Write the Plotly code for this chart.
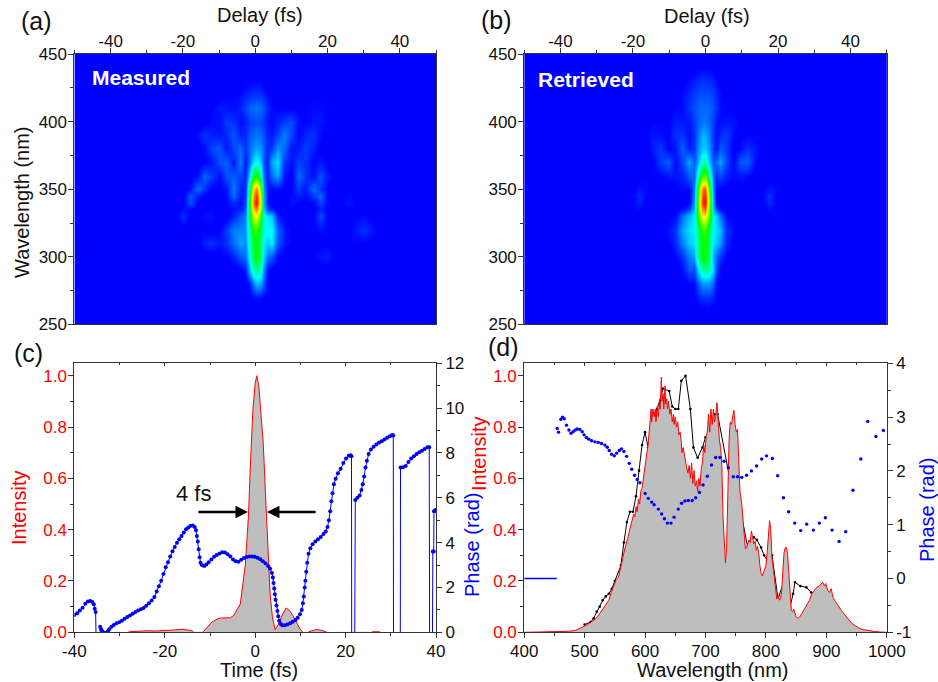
import plotly.graph_objects as go

W, H = 938, 682
def fx(x): return x / W
def fy(y): return 1 - y / H

# ---------- FROG maps (values in percent of peak) ----------
delay_a = [-50,-36,-30,-26,-22,-20,-18,-16,-14,-12,-10,-8,-6,-4,-2.6,-1.6,-0.6,0.4,1.4,2.4,3.4,4.4,6,8,10,12,14,16,18,20,22,26,30,36,50]
delay_b = [-50,-36,-30.4,-26.4,-22.4,-20.4,-18.4,-16.4,-14.4,-12.4,-10.4,-8.4,-6.4,-4.4,-3,-2,-1,0,1,2,3,4,5.6,7.6,9.6,11.6,13.6,15.6,17.6,19.6,21.6,25.6,29.6,36,50]
map_wavelength = [250,260,270,280,290,300,310,320,330,335,340,345,350,360,370,380,390,400,410,420,430,440,450]

measured_pct = [
 [0]*31,
 [0]*31,
 [0,0,0,0,0,0,0,0,0,0,0,0,0,2,4,5,5,4,2,0,0,0,0,0,0,0,0,0,0,0,0],
 [0,0,0,0,0,0,0,0,0,0,0,0,1,5,16,22,20,12,4,2,0,0,0,0,0,0,0,0,0,0,0],
 [0,0,0,0,0,0,0,0,0,0,1,3,6,22,36,38,34,18,5,2,0,0,0,0,0,0,1,1,0,0,0],
 [0,0,0,0,0,1,1,1,2,3,6,12,14,30,46,50,42,26,14,12,4,1,1,1,1,3,5,6,2,1,1],
 [0,0,0,1,1,2,6,8,5,8,14,20,18,34,48,50,42,28,24,28,12,5,3,2,2,2,2,3,2,3,3],
 [0,0,1,2,2,3,3,2,3,9,16,17,18,38,52,54,44,32,30,30,14,5,3,3,3,3,4,3,3,3,8],
 [0,3,1,8,2,2,4,5,2,2,6,12,16,46,72,76,56,30,26,24,6,2,2,3,2,3,11,3,2,2,4],
 [1,2,1,4,4,2,2,3,1,2,5,6,12,48,82,90,68,24,10,6,2,1,3,2,3,2,6,3,2,3,1],
 [0,1,1,2,11,3,1,1,1,3,8,4,10,50,90,100,74,22,6,2,1,1,5,3,3,3,10,4,2,5,0],
 [1,1,1,2,12,6,3,1,2,4,14,5,8,46,86,96,72,22,5,2,3,2,4,6,4,8,14,3,2,4,0],
 [0,1,3,1,5,14,8,3,3,5,16,6,8,42,80,88,64,20,5,4,4,3,3,9,5,15,8,3,2,2,0],
 [0,1,2,0,2,4,13,9,4,11,12,10,6,26,48,52,38,14,6,14,20,5,2,14,8,4,11,5,2,1,0],
 [1,1,0,0,0,2,3,5,11,13,5,16,5,14,26,30,24,12,6,20,26,8,5,9,8,3,5,3,1,0,0],
 [0,0,0,0,0,2,4,10,12,5,10,14,8,14,18,20,18,13,7,9,18,14,4,6,9,6,2,2,1,0,0],
 [0,0,0,0,0,4,8,6,5,7,12,6,7,12,14,15,14,11,6,5,10,16,10,3,7,8,4,2,2,2,0],
 [0,0,0,0,0,0,2,4,4,9,8,4,6,9,10,11,10,8,5,4,6,9,11,4,3,5,5,3,2,2,0],
 [0,0,0,0,0,0,0,3,5,5,4,6,10,13,14,15,14,11,7,4,3,3,3,3,3,4,4,3,1,0,0],
 [0,0,0,0,0,0,0,0,2,3,3,4,6,7,8,8,8,6,4,3,2,2,2,2,2,3,3,2,0,0,0],
 [0,0,0,0,0,0,0,0,0,0,0,1,2,3,3,3,3,2,1,0,0,0,0,0,0,0,0,0,0,0,0],
 [0]*31,
 [0]*31,
]
retrieved_pct = [
 [0]*31,
 [0,0,0,0,0,0,0,0,0,0,0,0,0,0,1,2,2,1,0,0,0,0,0,0,0,0,0,0,0,0,0],
 [0,0,0,0,0,0,0,0,0,0,0,1,3,6,8,8,8,6,3,1,0,0,0,0,0,0,0,0,0,0,0],
 [0,0,0,0,0,0,0,0,0,0,1,3,4,12,18,18,18,12,4,3,1,0,0,0,0,0,0,0,0,0,0],
 [0,0,0,0,0,0,0,0,0,1,4,12,10,26,36,38,36,24,10,4,1,0,0,0,0,0,0,0,0,0,0],
 [0,0,0,0,0,0,0,1,1,3,8,16,20,40,50,52,40,20,14,8,3,1,1,0,0,0,0,0,0,0,0],
 [0,0,0,0,0,1,1,1,3,7,16,24,26,40,50,52,40,26,24,18,7,3,2,1,1,0,0,0,0,0,0],
 [0,0,0,1,1,1,1,2,4,8,20,26,28,42,54,56,42,28,26,22,8,4,2,1,1,1,1,1,0,0,0],
 [0,0,0,4,2,1,0,1,2,4,14,22,28,56,76,78,56,28,24,14,4,2,1,0,1,1,3,4,1,0,0],
 [0,0,0,3,4,1,1,0,1,2,4,10,22,60,88,92,60,22,10,4,2,1,0,1,1,2,4,3,1,0,0],
 [0,0,0,3,6,2,1,0,0,1,2,3,20,62,96,100,64,20,3,2,1,0,0,1,1,2,7,3,1,0,0],
 [0,0,0,2,7,3,1,0,0,1,2,2,18,60,92,97,62,18,2,2,1,0,0,1,2,3,8,3,1,0,0],
 [0,0,0,1,5,4,2,1,1,2,4,4,16,56,88,92,56,16,4,3,2,1,1,2,3,3,5,4,1,0,0],
 [0,0,0,0,2,3,3,3,5,5,6,12,14,36,56,60,36,14,8,10,6,4,5,4,2,2,2,1,0,0,0],
 [0,0,0,0,1,2,3,9,13,4,10,20,12,22,34,36,22,12,14,20,10,3,12,13,4,1,0,0,0,0,0],
 [0,0,0,0,0,2,6,9,3,5,13,6,9,18,24,24,18,9,5,12,9,2,4,8,5,2,0,0,0,0,0],
 [0,0,0,0,1,3,5,4,3,8,8,4,8,15,21,21,15,8,4,7,9,4,2,3,3,2,0,0,0,0,0],
 [0,0,0,0,0,2,3,3,3,6,5,5,9,13,15,15,13,9,5,4,5,5,3,2,2,1,0,0,0,0,0],
 [0,0,0,0,0,0,1,2,2,3,4,8,11,13,14,14,13,11,8,4,3,2,2,1,0,0,0,0,0,0,0],
 [0,0,0,0,0,0,0,0,1,2,4,7,9,11,11,11,11,9,7,4,2,1,1,0,0,0,0,0,0,0,0],
 [0,0,0,0,0,0,0,0,0,0,2,4,6,7,8,8,7,6,4,2,1,0,0,0,0,0,0,0,0,0,0],
 [0,0,0,0,0,0,0,0,0,0,0,1,2,3,3,3,3,2,1,0,0,0,0,0,0,0,0,0,0,0,0],
 [0]*31,
]

# ---------- panel (c): temporal profile ----------
time_fs = [-28,-26,-24,-22,-20,-18,-16,-14,-13.7,None,-11.5,-10.5,-9.6,-8,-5.5,-4.8,-3.3,-2.2,-1.5,-1,-0.5,0,0.35,0.8,1.3,1.8,2.5,3.3,3.8,4.4,5.1,5.8,6.8,7.6,8.5,9.2,10,10.5,None,11.8,12.8,13.6,14.8,15.8,None,25.8,27.6]
intensity_t = [0.002,0.005,0.006,0.005,0.006,0.009,0.012,0.006,0.002,None,0.002,0.02,0.04,0.055,0.057,0.065,0.11,0.26,0.45,0.68,0.87,0.97,1.0,0.96,0.85,0.73,0.45,0.15,0.06,0.01,0.03,0.06,0.095,0.085,0.06,0.035,0.01,0.002,None,0.002,0.008,0.011,0.007,0.001,None,0.002,0.002]

phase_time = [-40,-39.4,-38.8,-38.2,-37.6,-37,-36.5,-36,-35.7,-35.5,-35.3,-35.15,None,
 -34.35,-34.3,-34.1,-33.8,-33.5,-33,-32.6,-32.3,-31.8,-31.3,-30.7,-30.1,-29.5,-28.9,-28.3,-27.7,-27.1,-26.5,-25.9,-25.3,-24.7,-24.1,-23.5,-22.9,-22.3,-21.8,-21.3,-20.8,-20.3,-19.8,-19.3,-18.8,-18.3,-17.8,-17.3,-16.8,-16.3,-15.8,-15.3,-14.8,-14.3,-13.8,-13.4,-13.1,-12.9,-12.7,-12.5,-12.3,-12.1,-11.8,-11.3,-10.8,-10.3,-9.7,-9.1,-8.5,-7.9,-7.3,-6.7,-6.1,-5.5,-4.9,-4.3,-3.7,-3.1,-2.5,-1.9,-1.3,-0.7,-0.1,0.5,1.1,1.7,2.3,2.9,3.3,3.7,3.9,4.05,4.2,4.35,4.5,4.7,4.9,5.1,5.3,5.6,6,6.5,7.1,7.7,8.3,8.9,9.4,9.9,10.3,10.55,10.75,10.95,11.1,11.3,11.5,11.8,12.2,12.7,13.3,13.9,14.5,15.1,15.6,16,16.3,16.6,16.85,17.1,17.4,17.8,18.3,18.9,19.5,20.1,20.7,21.1,21.3,21.35,None,
 22,22.15,22.6,23.1,23.5,23.8,24.1,24.4,24.7,25.1,25.6,26.2,26.8,27.4,28,28.6,29.2,29.8,30.3,30.55,30.6,None,
 32.1,32.15,32.7,33.3,33.9,34.5,35.1,35.7,36.3,36.9,37.5,38.1,38.5,38.6,None,
 39.2,39.3,39.5,39.55,39.8,40]
phase_t = [0.77,0.85,0.97,1.1,1.27,1.37,1.4,1.35,1.25,1.05,0.9,-1,None,
 -1,0.25,0.15,0.05,-0.02,-0.02,0.05,0.14,0.25,0.33,0.4,0.45,0.52,0.6,0.68,0.75,0.83,0.9,0.97,1.03,1.08,1.18,1.3,1.42,1.58,1.82,2.05,2.3,2.6,2.9,3.12,3.38,3.62,3.8,4.0,4.15,4.3,4.45,4.6,4.68,4.75,4.76,4.7,4.55,4.3,4.05,3.7,3.35,3.1,3.0,2.96,3.03,3.13,3.25,3.37,3.45,3.52,3.57,3.56,3.48,3.38,3.25,3.17,3.15,3.24,3.32,3.36,3.38,3.38,3.37,3.33,3.26,3.17,3.07,2.95,2.83,2.65,2.45,2.2,1.95,1.7,1.45,1.2,0.95,0.72,0.52,0.38,0.32,0.31,0.35,0.4,0.47,0.55,0.65,0.8,1.0,1.3,1.6,2.0,2.3,2.7,3.1,3.5,3.75,3.93,4.05,4.15,4.25,4.38,4.5,4.7,5.0,5.4,5.85,6.2,6.6,6.85,7.1,7.3,7.55,7.75,7.88,7.9,7.85,-1,None,
 -1,5.9,6.0,6.1,6.35,6.6,6.95,7.35,7.65,7.95,8.15,8.28,8.38,8.47,8.52,8.6,8.68,8.75,8.8,8.78,-1,None,
 -1,7.35,7.36,7.42,7.6,7.75,7.85,7.95,8.03,8.1,8.18,8.25,8.25,-1,None,
 -1,3.6,3.6,5.4,5.42,5.47]

# ---------- panel (d): spectrum ----------
wl_spec = [400,420,440,460,475,485,495,505,512,518,524,530,535,540,544,548,552,556,559,563,567,571,575,578,581,583,585,587,589,591,593,595,597,599,601,603,605,607,609,610,611,613,615,617,618,620,622,624,625,627,628,630,631,633,634,636,637,639,641,643,645,647,648,650,652,654,656,658,660,661,663,665,667,669,671,673,675,677,679,681,683,685,687,689,691,693,695,697,699,701,703,705,707,709,711,713,715,717,719,721,723,725,727,729,731,733,735,737,739,741,743,745,747,749,751,753,755,757,760,762,764,766,768,770,772,774,776,778,780,782,784,786,788,790,792,794,796,798,800,802,804,806,808,810,812,814,816,818,820,822,824,826,828,830,832,834,836,838,840,842,844,846,848,850,853,856,860,864,868,872,876,880,884,888,891,894,897,899,902,905,908,911,915,920,925,930,936,942,948,955,962,970,980,990,1000]
spectrum = [0,.001,.001,.002,.004,.008,.018,.03,.042,.052,.07,.09,.105,.125,.155,.18,.205,.215,.25,.285,.33,.365,.40,.43,.46,.45,.49,.47,.52,.50,.55,.56,.60,.62,.66,.70,.73,.78,.82,.87,.82,.87,.84,.87,.82,.88,.84,.90,.87,.995,.90,.93,.87,.96,.89,.91,.87,.90,.85,.87,.82,.85,.81,.84,.80,.82,.77,.78,.74,.70,.72,.69,.67,.64,.62,.65,.60,.66,.58,.63,.57,.59,.55,.60,.57,.64,.66,.73,.70,.76,.78,.85,.78,.87,.81,.87,.82,.84,.895,.80,.75,.72,.65,.45,.32,.27,.33,.55,.75,.82,.81,.84,.865,.81,.78,.79,.65,.55,.50,.43,.37,.325,.33,.35,.36,.35,.395,.37,.345,.355,.32,.335,.31,.26,.23,.22,.235,.25,.26,.31,.37,.435,.40,.29,.25,.2,.175,.13,.145,.125,.13,.16,.24,.31,.33,.33,.30,.22,.13,.085,.08,.09,.075,.06,.055,.06,.075,.09,.105,.125,.15,.165,.175,.18,.19,.195,.18,.19,.165,.155,.17,.135,.12,.10,.085,.07,.05,.035,.025,.015,.01,.006,.003,.001,0]

wl_meas = [500,510,515,520,525,530,535,540,545,550,560,565,570,575,580,585,590,595,600,605,610,620,630,640,645,650,655,660,667,675,680,687,695,700,705,715,720,740,760,770,780,785,792,797,802,810,820,830,840,845,848,857,867,875,880,890]
measured = [.03,.04,.055,.08,.1,.125,.14,.15,.17,.2,.26,.35,.43,.47,.47,.53,.63,.73,.78,.72,.8,.87,.95,.94,.88,.87,.87,.98,1.0,.87,.72,.68,.72,.76,.77,.85,.85,.6,.45,.33,.37,.36,.33,.3,.28,.3,.13,.2,.1,.15,.195,.18,.175,.155,.15,.17]

wl_phase = [454.6,456.8,460.7,463.5,466.3,470,474,477.3,481,484.4,487.7,492,496,499,503,507,511.5,517,522.5,528,533.5,537.4,540.7,544.6,549,553,557.3,561,565,569.4,573.8,578,582.7,587,591.5,600,605.3,611,615,622,627.4,632,637,643,648,655,660.5,666,671.5,678,683.7,690,696,703,710,716.8,724,730.6,737.7,746,753,760,768,776,784.6,793,801,810.6,819.4,829,837.6,847.6,857.5,867.4,878.5,888.4,898.3,909.4,921,932,944,957,968.4,982,994.4]
phase_w = [2.79,2.72,2.96,3.0,2.97,2.85,2.76,2.7,2.73,2.76,2.78,2.77,2.73,2.67,2.62,2.59,2.56,2.54,2.53,2.51,2.48,2.44,2.38,2.31,2.28,2.33,2.38,2.41,2.36,2.27,2.14,2.03,1.92,1.84,1.78,1.58,1.49,1.42,1.37,1.29,1.2,1.11,1.03,1.03,1.14,1.29,1.4,1.44,1.45,1.45,1.5,1.6,1.74,1.9,2.11,2.25,2.25,2.18,2.06,1.89,1.89,1.88,1.92,2.0,2.09,2.22,2.28,2.23,1.91,1.5,1.24,1.03,.89,1.01,.9,1.03,1.13,.9,.69,.87,1.64,2.22,2.92,2.64,2.75]
wl_flat = [400,454]
phase_flat = [0,0]

delay_ticks = [-40,-20,0,20,40]
delay_tick_text = ["-40","-20","0","20","40"]
time_ticks = [-40,-20,0,20,40]
time_tick_text = ["-40","-20","0","20","40"]
phase_d_ticks = [-1,0,1,2,3,4]
phase_d_tick_text = ["-1","0","1","2","3","4"]

# ---------- styles ----------
FONT = "Liberation Sans, Arial, sans-serif"
RED = "#ff0000"; BLUE = "#0000ff"; AX = "#333333"
jet = [[0,"#0000ff"],[.03,"#0000ff"],[.29,"#00ffff"],[.5,"#00ff00"],[.76,"#ffff00"],[1,"#ff0000"]]

def pad(rows): return [[0,0]+r+[0,0] for r in rows]

fig = go.Figure()
fig.add_trace(go.Heatmap(x=delay_a, y=map_wavelength, z=pad(measured_pct), colorscale=jet, zmin=0, zmax=100,
                         zsmooth="best", showscale=False, xaxis="x", yaxis="y", name="Measured"))
fig.add_trace(go.Heatmap(x=delay_b, y=map_wavelength, z=pad(retrieved_pct), colorscale=jet, zmin=0, zmax=100,
                         zsmooth="best", showscale=False, xaxis="x2", yaxis="y2", name="Retrieved"))

fig.add_trace(go.Scatter(x=time_fs, y=intensity_t, mode="lines", fill="tozeroy", fillcolor="#bebebe",
                         line=dict(color=RED, width=1), xaxis="x3", yaxis="y3", name="Intensity"))
fig.add_trace(go.Scatter(x=phase_time, y=phase_t, mode="lines+markers", line=dict(color=BLUE, width=1),
                         marker=dict(color=BLUE, size=4), connectgaps=False, xaxis="x3", yaxis="y4", name="Phase"))

fig.add_trace(go.Scatter(x=wl_meas, y=measured, mode="lines+markers", line=dict(color="#000000", width=1),
                         marker=dict(color="#000000", size=2.6), xaxis="x4", yaxis="y5", name="Measured spectrum"))
fig.add_trace(go.Scatter(x=wl_spec, y=spectrum, mode="lines", fill="tozeroy", fillcolor="#bebebe",
                         line=dict(color=RED, width=1), xaxis="x4", yaxis="y5", name="Spectrum"))
fig.add_trace(go.Scatter(x=wl_phase, y=phase_w, mode="markers", marker=dict(color=BLUE, size=3.4),
                         xaxis="x4", yaxis="y6", name="Spectral phase"))
fig.add_trace(go.Scatter(x=wl_flat, y=phase_flat, mode="lines", line=dict(color=BLUE, width=1.5),
                         xaxis="x4", yaxis="y6", name="Spectral phase"))
# carriers for the inward ticks along the top edge of (c) and (d)
fig.add_trace(go.Scatter(x=[None], y=[None], xaxis="x5", yaxis="y3", showlegend=False))
fig.add_trace(go.Scatter(x=[None], y=[None], xaxis="x6", yaxis="y5", showlegend=False))

def tick(size=17, color="#111111"):
    return dict(family=FONT, size=size, color=color)

def axis(rng, dtick, mn, dom=None, **kw):
    d = dict(range=rng, dtick=dtick, tick0=0, ticks="outside", ticklen=5, tickwidth=1, tickcolor=AX,
             showline=True, linecolor=AX, linewidth=1, showgrid=False, zeroline=False,
             tickfont=tick(), layer="above traces",
             minor=dict(dtick=mn, ticks="outside", ticklen=3, tickwidth=1, tickcolor=AX, showgrid=False))
    if dom: d["domain"] = dom
    d.update(kw)
    return d

def arr(vals, text):
    return dict(tickmode="array", tickvals=vals, ticktext=text)

XA = [fx(74.4), fx(436)]
XB = [fx(524.2), fx(886.8)]
YT = [fy(324.4), fy(54)]
YB = [fy(632.3), fy(363.3)]
IMAX = (632.3-363.3)/(632.3-375.7)

fig.update_layout(
    width=W, height=H, autosize=False, margin=dict(l=0, r=0, t=0, b=0, autoexpand=False),
    paper_bgcolor="white", plot_bgcolor="white", showlegend=False,
    font=dict(family=FONT, color="#111111"),
    xaxis=axis([-50,50],20,10,XA,side="top",anchor="y",mirror=True,ticklabelstandoff=-6,**arr(delay_ticks,delay_tick_text)),
    yaxis=axis([250,450],50,25,YT,anchor="x",mirror=True,ticklabelstandoff=-2),
    xaxis2=axis([-50,50],20,10,XB,side="top",anchor="y2",mirror=True,ticklabelstandoff=-6,**arr(delay_ticks,delay_tick_text)),
    yaxis2=axis([250,450],50,25,YT,anchor="x2",mirror=True,ticklabelstandoff=-2),
    xaxis3=axis([-40,40],20,10,XA,anchor="y3",ticklabelstandoff=-2,**arr(time_ticks,time_tick_text)),
    yaxis3=axis([0,IMAX],0.2,0.1,YB,anchor="x3",tickfont=tick(color=RED),tickformat=".1f",ticklabelstandoff=-2),
    yaxis4=axis([0,12],2,1,None,overlaying="y3",side="right",anchor="x3"),
    xaxis4=axis([400,1000],100,50,XB,anchor="y5",ticklabelstandoff=-2),
    yaxis5=axis([0,IMAX],0.2,0.1,YB,anchor="x4",tickfont=tick(color=RED),tickformat=".1f",ticklabelstandoff=-2),
    yaxis6=axis([-1,4],1,0.5,None,overlaying="y5",side="right",anchor="x4",**arr(phase_d_ticks,phase_d_tick_text)),
    xaxis5=axis([-40,40],20,10,XA,overlaying="x3",side="top",anchor="y3",showticklabels=False,ticks="inside",ticklen=3,
                minor=dict(dtick=10,ticks="inside",ticklen=2,tickcolor=AX)),
    xaxis6=axis([400,1000],100,50,XB,overlaying="x4",side="top",anchor="y5",showticklabels=False,ticks="inside",ticklen=3,
                minor=dict(dtick=50,ticks="inside",ticklen=2,tickcolor=AX)),
)

def label(text, x, y, size=20, color="#111111", angle=0, xanchor="center", bold=False):
    return dict(text=f"<b>{text}</b>" if bold else text, x=fx(x), y=fy(y), xref="paper", yref="paper", showarrow=False,
                font=dict(family=FONT, size=size, color=color), textangle=angle, xanchor=xanchor, yanchor="middle", borderpad=0)

ann = [
    label("(a)",36,21,25), label("(b)",496,20,25), label("(c)",28,353,25), label("(d)",503,347,25),
    label("Delay (fs)",260,15), label("Delay (fs)",707,16),
    label("Wavelength (nm)",22,202,angle=-90),
    label("Time (fs)",259,670), label("Wavelength (nm)",713,670),
    label("Intensity",19,508,color=RED,angle=-90),
    label("Phase (rad)",472,545,color=BLUE,angle=-90),
    label("Intensity",479,454,color=RED,angle=-90),
    label("Phase (rad)",927,510,color=BLUE,angle=-90),
    label("Measured",91,77,21,"#ffffff",xanchor="left",bold=True),
    label("Retrieved",537,79,21,"#ffffff",xanchor="left",bold=True),
    label("4 fs",193,493,22),
    dict(x=-1.6,y=.469,ax=-12.9,ay=.469,xref="x3",yref="y3",axref="x3",ayref="y3",showarrow=True,arrowhead=2,arrowsize=1,arrowwidth=2.5,arrowcolor="#000000",text=""),
    dict(x=2.6,y=.469,ax=13.7,ay=.469,xref="x3",yref="y3",axref="x3",ayref="y3",showarrow=True,arrowhead=2,arrowsize=1,arrowwidth=2.5,arrowcolor="#000000",text=""),
]
fig.update_layout(annotations=ann)

fig.write_html("out.html", config={"displayModeBar": False},
               post_script="document.body.style.margin='0';document.body.style.overflow='hidden';")
